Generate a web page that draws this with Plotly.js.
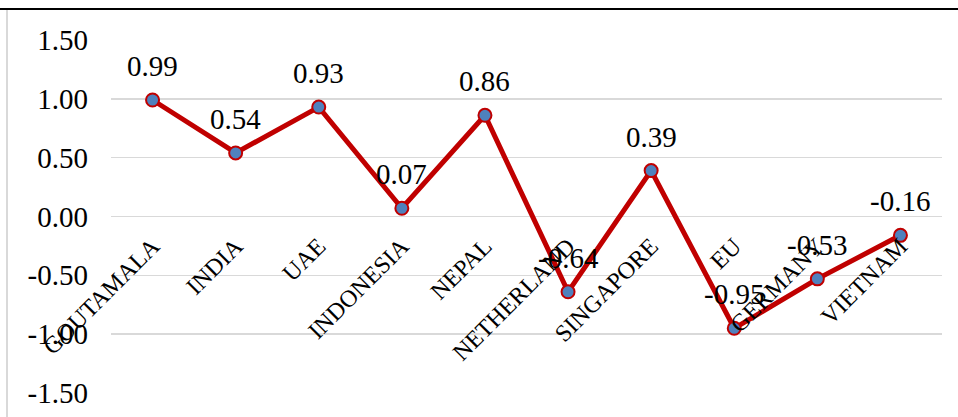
<!DOCTYPE html>
<html>
<head>
<meta charset="utf-8">
<script src="https://cdn.plot.ly/plotly-3.0.1.min.js"></script>
<style>
  html, body { margin: 0; padding: 0; background: #fff; }
  #wrap { position: relative; width: 958px; height: 417px; overflow: hidden; }
  #topline { position: absolute; left: 0; top: 8px; width: 958px; height: 2px; background: #000; }
  #leftline { position: absolute; left: 6px; top: 10px; width: 2px; height: 407px; background: #d9d9d9; }
  #chart { position: absolute; left: 0; top: 0; width: 958px; height: 417px; }
</style>
</head>
<body>
<div id="wrap">
  <div id="topline"></div>
  <div id="leftline"></div>
  <div id="chart"></div>
</div>
<script>
const categories = ["GOUTAMALA", "INDIA", "UAE", "INDONESIA", "NEPAL", "NETHERLAND", "SINGAPORE", "EU", "GERMANY", "VIETNAM"];
const values = [0.99, 0.54, 0.93, 0.07, 0.86, -0.64, 0.39, -0.95, -0.53, -0.16];
const yTickValues = [-1.5, -1.0, -0.5, 0.0, 0.5, 1.0, 1.5];
const yTickText = ["-1.50", "-1.00", "-0.50", "0.00", "0.50", "1.00", "1.50"];

const serif = "Liberation Serif, Times New Roman, serif";

const trace = {
  type: "scatter",
  mode: "lines+markers",
  x: categories,
  y: values,
  line: { color: "#C00000", width: 5 },
  marker: { size: 13, color: "#4F81BD", line: { color: "#C00000", width: 2 } },
  cliponaxis: false,
  hoverinfo: "skip"
};

const annotations = categories.map((c, i) => ({
  x: c, y: values[i], xref: "x", yref: "y",
  text: values[i].toFixed(2),
  showarrow: false, yshift: 34,
  font: { family: serif, size: 29, color: "#000" }
}));

const layout = {
  width: 958, height: 417,
  margin: { l: 111, r: 16, t: 40, b: 24 },
  paper_bgcolor: "rgba(0,0,0,0)",
  plot_bgcolor: "rgba(0,0,0,0)",
  showlegend: false,
  xaxis: {
    type: "category",
    range: [-0.5, 9.5],
    anchor: "free", position: 0.5,
    showgrid: false, zeroline: false, showline: false,
    ticks: "", tickangle: -45,
    ticklabelstandoff: 10,
    tickfont: { family: serif, size: 24, color: "#000" },
    fixedrange: true
  },
  yaxis: {
    range: [-1.5, 1.5],
    tickvals: yTickValues,
    ticktext: yTickText,
    showgrid: true, gridcolor: "#D9D9D9", gridwidth: 1.5,
    zeroline: false, showline: false, ticks: "",
    ticklabelstandoff: 22,
    tickfont: { family: serif, size: 29, color: "#000" },
    fixedrange: true
  },
  annotations: annotations
};

Plotly.newPlot("chart", [trace], layout, { staticPlot: true, displayModeBar: false });
</script>
</body>
</html>
